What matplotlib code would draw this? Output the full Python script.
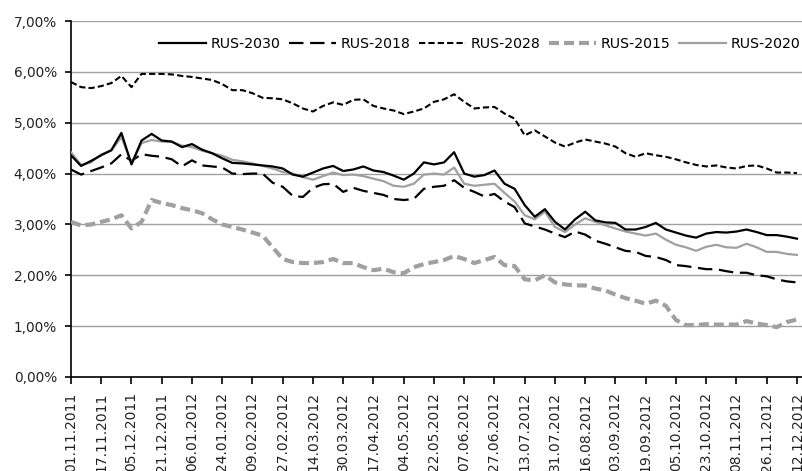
import matplotlib
matplotlib.use("Agg")
import matplotlib.pyplot as plt
import numpy as np
from matplotlib.ticker import FuncFormatter

# sampled every 4 trading days, starting 01.11.2011
step = 4

rus_2030 = [4.36, 4.15, 4.25, 4.36, 4.46, 4.80, 4.18, 4.65, 4.78, 4.65, 4.63, 4.52,
            4.58, 4.47, 4.40, 4.30, 4.21, 4.20, 4.18, 4.16, 4.14, 4.10, 3.98, 3.94,
            4.02, 4.10, 4.15, 4.05, 4.08, 4.14, 4.06, 4.03, 3.96, 3.88, 4.00, 4.22,
            4.18, 4.22, 4.42, 4.00, 3.94, 3.97, 4.06, 3.80, 3.70, 3.38, 3.15, 3.30,
            3.05, 2.90, 3.10, 3.25, 3.08, 3.04, 3.03, 2.90, 2.90, 2.95, 3.03, 2.90,
            2.84, 2.78, 2.74, 2.82, 2.85, 2.84, 2.86, 2.90, 2.85, 2.79, 2.79, 2.76,
            2.72]
rus_2018 = [4.08, 3.98, 4.05, 4.12, 4.20, 4.38, 4.25, 4.38, 4.35, 4.33, 4.28, 4.14,
            4.26, 4.16, 4.14, 4.12, 4.00, 3.99, 4.00, 4.00, 3.82, 3.74, 3.56, 3.54,
            3.72, 3.79, 3.80, 3.64, 3.72, 3.66, 3.62, 3.58, 3.50, 3.48, 3.50, 3.70,
            3.74, 3.76, 3.87, 3.72, 3.64, 3.55, 3.60, 3.45, 3.34, 3.02, 2.96, 2.90,
            2.82, 2.75, 2.86, 2.80, 2.68, 2.62, 2.55, 2.48, 2.46, 2.38, 2.36, 2.30,
            2.20, 2.18, 2.15, 2.12, 2.12, 2.08, 2.05, 2.05, 2.00, 1.98, 1.92, 1.88,
            1.86]
rus_2028 = [5.80, 5.70, 5.68, 5.72, 5.78, 5.92, 5.70, 5.96, 5.96, 5.96, 5.95, 5.92,
            5.90, 5.87, 5.84, 5.76, 5.64, 5.64, 5.58, 5.49, 5.48, 5.46, 5.38, 5.28,
            5.22, 5.33, 5.40, 5.35, 5.45, 5.46, 5.33, 5.28, 5.24, 5.17, 5.22, 5.28,
            5.41, 5.46, 5.56, 5.41, 5.28, 5.30, 5.31, 5.18, 5.08, 4.75, 4.85, 4.73,
            4.61, 4.53, 4.61, 4.67, 4.63, 4.59, 4.53, 4.40, 4.33, 4.40, 4.36, 4.33,
            4.28, 4.22, 4.17, 4.14, 4.16, 4.12, 4.10, 4.15, 4.16, 4.10, 4.02, 4.02,
            4.01]
rus_2015 = [3.05, 2.98, 3.00, 3.05, 3.10, 3.18, 2.92, 3.05, 3.48, 3.42, 3.38, 3.32,
            3.28, 3.22, 3.10, 3.00, 2.95, 2.90, 2.84, 2.78, 2.55, 2.32, 2.26, 2.24,
            2.24, 2.26, 2.32, 2.24, 2.24, 2.16, 2.10, 2.13, 2.06, 2.04, 2.16, 2.22,
            2.26, 2.30, 2.38, 2.32, 2.24, 2.30, 2.36, 2.20, 2.18, 1.92, 1.90, 2.00,
            1.86, 1.82, 1.80, 1.80, 1.74, 1.70, 1.62, 1.55, 1.50, 1.44, 1.50, 1.40,
            1.12, 1.02, 1.02, 1.04, 1.03, 1.03, 1.03, 1.10, 1.05, 1.02, 0.98, 1.08,
            1.13]
rus_2020 = [4.42, 4.17, 4.22, 4.38, 4.45, 4.72, 4.20, 4.60, 4.66, 4.63, 4.62, 4.55,
            4.52, 4.45, 4.40, 4.35, 4.27, 4.24, 4.20, 4.15, 4.10, 4.03, 4.00, 3.93,
            3.88, 3.95, 4.02, 3.97, 3.98, 3.95, 3.90, 3.85, 3.76, 3.74, 3.80, 3.98,
            4.00, 3.98, 4.12, 3.80, 3.76, 3.78, 3.80, 3.62, 3.45, 3.18, 3.10, 3.25,
            2.95, 2.85, 3.00, 3.12, 3.05, 2.98, 2.92, 2.86, 2.82, 2.78, 2.82, 2.70,
            2.60, 2.55, 2.48, 2.56, 2.60, 2.55, 2.54, 2.62, 2.55, 2.46, 2.46, 2.42,
            2.40]

tick_labels = ["01.11.2011", "17.11.2011", "05.12.2011", "21.12.2011", "06.01.2012",
               "24.01.2012", "09.02.2012", "27.02.2012", "14.03.2012", "30.03.2012",
               "17.04.2012", "04.05.2012", "22.05.2012", "07.06.2012", "27.06.2012",
               "13.07.2012", "31.07.2012", "16.08.2012", "03.09.2012", "19.09.2012",
               "05.10.2012", "23.10.2012", "08.11.2012", "26.11.2012", "12.12.2012"]
tick_every = 12

plt.rcParams["font.family"] = ["DejaVu Sans"]
plt.rcParams["font.size"] = 10.2

fig = plt.figure(figsize=(8.03, 4.71), dpi=100)
ax = fig.add_axes([0.0884, 0.1996, 0.9116, 0.7558])

x = np.arange(len(rus_2030)) * step

ax.plot(x, rus_2030, color="black", lw=1.6, label="RUS-2030", zorder=5)
ax.plot(x, rus_2018, color="black", lw=1.6, dashes=(6.5, 3.0), label="RUS-2018", zorder=4)
ax.plot(x, rus_2028, color="black", lw=1.5, dashes=(3.0, 1.5), label="RUS-2028", zorder=4)
ax.plot(x, rus_2015, color="#a0a0a0", lw=3.0, dashes=(2.4, 1.2), label="RUS-2015", zorder=3)
ax.plot(x, rus_2020, color="#a0a0a0", lw=1.6, label="RUS-2020", zorder=4)

ax.set_xlim(0, 290.4)
ax.set_ylim(0, 7)
ax.set_yticks(np.arange(0, 8, 1))
ax.yaxis.set_major_formatter(FuncFormatter(lambda v, p: f"{v:.2f}".replace(".", ",") + "%"))
ax.set_xticks(np.arange(len(tick_labels)) * tick_every)
ax.set_xticklabels(tick_labels, rotation=90)

ax.grid(axis="y", color="#a0a0a0", lw=1.0)
ax.set_axisbelow(True)
for side in ("top", "right"):
    ax.spines[side].set_visible(False)
for side in ("left", "bottom"):
    ax.spines[side].set_color("black")
    ax.spines[side].set_linewidth(1.2)
ax.tick_params(axis="x", length=5, width=1.2, pad=6, colors="black", labelsize=10)
ax.tick_params(axis="y", length=4, width=1.2, pad=6, colors="black", labelsize=9.8)
for lbl in ax.get_xticklabels() + ax.get_yticklabels():
    lbl.set_color("#222222")

ax.legend(loc="center right", bbox_to_anchor=(0.997, 0.936), ncol=5, frameon=False,
          handlelength=3.3, handletextpad=0.35, columnspacing=0.6, borderaxespad=0,
          borderpad=0)

fig.savefig("out.png", dpi=100)
